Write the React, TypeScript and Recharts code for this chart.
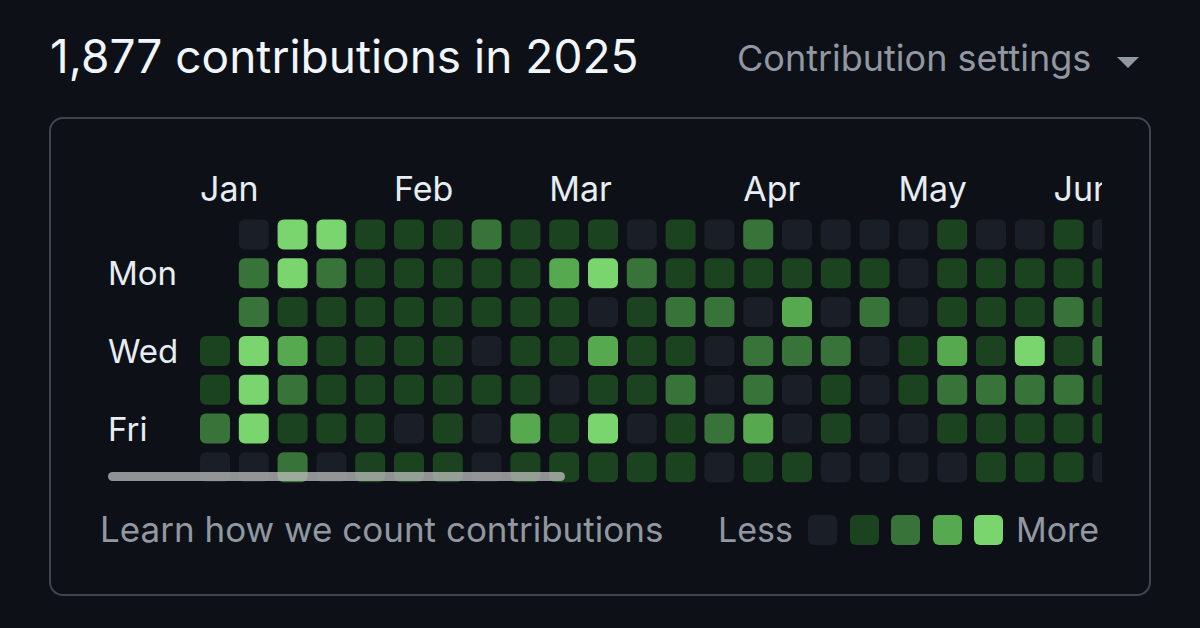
import { ScatterChart, Scatter, XAxis, YAxis } from 'recharts';

// contribution level per week column (0 = none ... 4 = most), null = outside the year
const sun = [null, 0, 4, 4, 1, 1, 1, 2, 1, 1, 1, 0, 1, 0, 2, 0, 0, 0, 0, 1, 0, 0, 1, 0];
const mon = [null, 2, 4, 2, 1, 1, 1, 1, 1, 3, 4, 2, 1, 1, 1, 1, 1, 1, 0, 1, 1, 1, 1, 1];
const tue = [null, 2, 1, 1, 1, 1, 1, 1, 1, 1, 0, 1, 2, 2, 0, 3, 0, 2, 0, 1, 1, 1, 2, 1];
const wed = [1, 4, 3, 1, 1, 1, 1, 0, 1, 1, 3, 1, 1, 0, 2, 2, 2, 0, 1, 3, 1, 4, 1, 2];
const thu = [1, 4, 2, 1, 1, 1, 1, 1, 1, 0, 1, 1, 2, 0, 2, 0, 1, 0, 1, 2, 2, 2, 2, 1];
const fri = [2, 4, 1, 1, 1, 0, 1, 0, 3, 1, 4, 0, 1, 2, 3, 0, 1, 0, 0, 1, 1, 1, 1, 1];
const sat = [0, 0, 2, 0, 1, 1, 1, 0, 1, 1, 1, 1, 1, 0, 1, 1, 0, 0, 0, 0, 1, 1, 1, 0];

const days = [sun, mon, tue, wed, thu, fri, sat];
const dayLabels = ['', 'Mon', '', 'Wed', '', 'Fri', ''];

const monthNames = ['Jan', 'Feb', 'Mar', 'Apr', 'May', 'Jun'];
const monthWeeks = [0, 5, 9, 14, 18, 22];

const LEVEL_COLORS = ['#1a1e26', '#1c4320', '#38743a', '#57a94f', '#7bd56f'];

const cells = days.flatMap((row, d) =>
  row
    .map((level, w) => ({ week: w, day: d, level }))
    .filter((c) => c.level !== null)
);

const FONT = 'Inter, "Noto Sans", sans-serif';
const GREY = '#9198a1';

const Cell = (props: any) => {
  const { cx, cy, payload } = props;
  return (
    <rect
      x={cx - 15}
      y={cy - 15}
      width={30}
      height={30}
      rx={6}
      fill={LEVEL_COLORS[payload.level]}
    />
  );
};

const MonthTick = ({ x, y, payload }: any) => (
  <text x={x - 15} y={y} dy={-6} fill="#e6edf3" fontSize={34} fontFamily={FONT}>
    {monthNames[monthWeeks.indexOf(payload.value)]}
  </text>
);

const DayTick = ({ y, payload }: any) => (
  <text x={108} y={y} dy={12} fill="#e6edf3" fontSize={33} fontFamily={FONT}>
    {dayLabels[payload.value]}
  </text>
);

export default function App() {
  return (
    <div
      style={{
        position: 'fixed',
        left: 0,
        top: 0,
        width: 1200,
        height: 628,
        background: '#0d1117',
        fontFamily: FONT,
        overflow: 'hidden',
      }}
    >
      <div style={{ position: 'absolute', left: 50, top: 28, fontSize: 46, color: '#f0f6fc', whiteSpace: 'nowrap' }}>
        1,877 contributions in 2025
      </div>
      <div style={{ position: 'absolute', left: 737, top: 36, fontSize: 36, color: GREY, whiteSpace: 'nowrap' }}>
        Contribution settings
      </div>
      <svg style={{ position: 'absolute', left: 1116, top: 56 }} width={24} height={14}>
        <polygon points="1,1 23,1 12,12" fill={GREY} />
      </svg>
      <div
        style={{
          position: 'absolute',
          left: 49,
          top: 117,
          width: 1098,
          height: 475,
          border: '2px solid #3d444d',
          borderRadius: 14,
        }}
      />
      <div style={{ position: 'absolute', left: 0, top: 0, width: 1102, height: 483, overflow: 'hidden' }}>
        <ScatterChart width={1200} height={500} margin={{ top: 165, right: 73.2, bottom: 13.3, left: 0 }}>
          <XAxis
            type="number"
            dataKey="week"
            orientation="top"
            domain={[-0.5, 23.5]}
            ticks={monthWeeks}
            tick={<MonthTick />}
            tickLine={false}
            axisLine={false}
            height={50.1}
            interval={0}
          />
          <YAxis
            type="number"
            dataKey="day"
            reversed
            domain={[-0.5, 6.5]}
            ticks={[1, 3, 5]}
            tick={<DayTick />}
            tickLine={false}
            axisLine={false}
            width={195.6}
            interval={0}
          />
          <Scatter data={cells} shape={<Cell />} isAnimationActive={false} />
        </ScatterChart>
      </div>
      <div
        style={{
          position: 'absolute',
          left: 108,
          top: 472,
          width: 457,
          height: 9,
          borderRadius: 5,
          background: 'rgba(190,190,190,0.75)',
        }}
      />
      <div style={{ position: 'absolute', left: 100, top: 508, fontSize: 35, color: GREY, whiteSpace: 'nowrap' }}>
        Learn how we count contributions
      </div>
      <div style={{ position: 'absolute', left: 718, top: 509, fontSize: 34, color: GREY }}>Less</div>
      {LEVEL_COLORS.map((c, i) => (
        <div
          key={i}
          style={{
            position: 'absolute',
            left: 808 + i * 41.5,
            top: 515,
            width: 29,
            height: 30,
            borderRadius: 6,
            background: c,
          }}
        />
      ))}
      <div style={{ position: 'absolute', left: 1016, top: 509, fontSize: 34, color: GREY }}>More</div>
    </div>
  );
}
